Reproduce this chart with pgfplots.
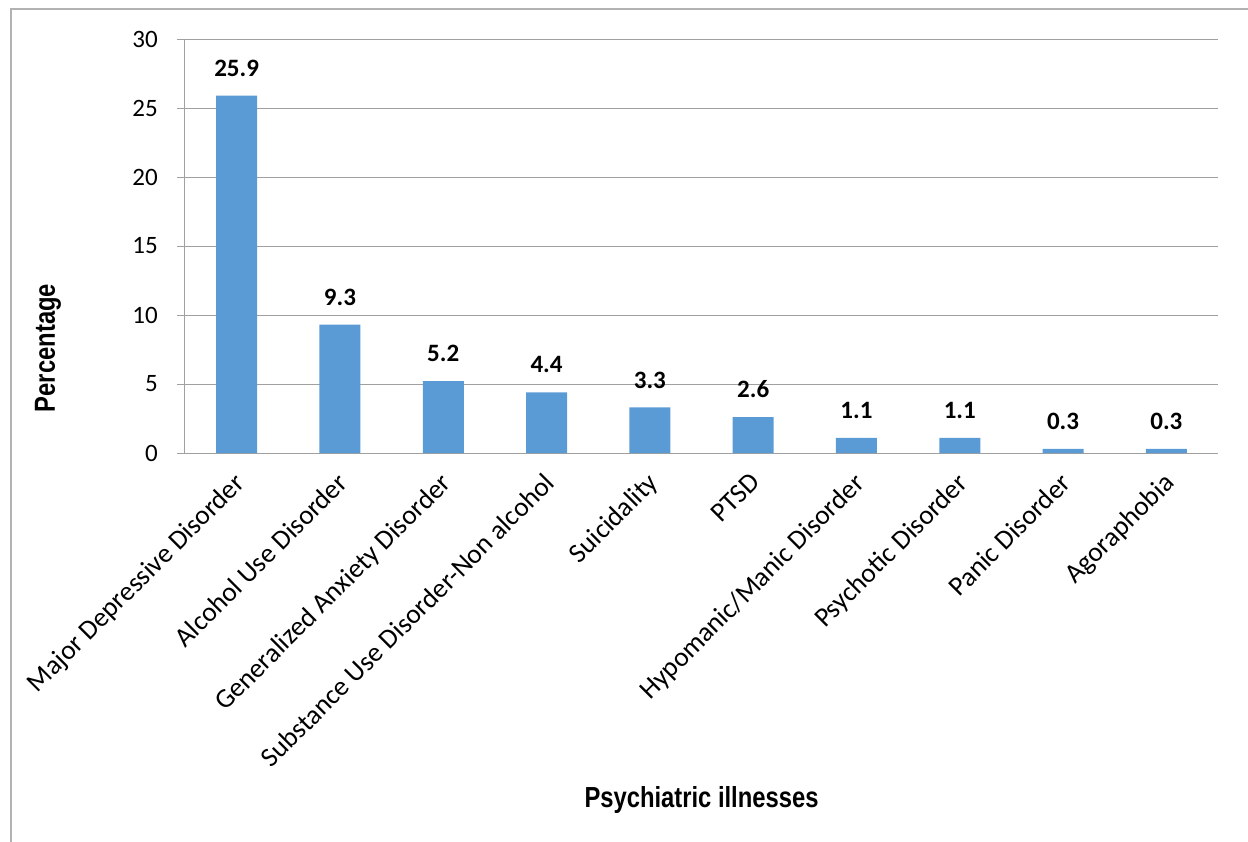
\documentclass[border=0pt]{standalone}
\usepackage{pgfplots}
\pgfplotsset{compat=1.18}
\usepackage{fontspec}
\setmainfont{Carlito}
\newfontfamily\narrowbold[FakeStretch=0.82]{Liberation Sans Bold}
\definecolor{barblue}{RGB}{91,155,213}
\definecolor{gridgray}{RGB}{160,160,160}
\definecolor{framegray}{RGB}{178,178,178}
\begin{document}
\begin{tikzpicture}[x=1pt,y=1pt]
\useasboundingbox (0,0) rectangle (1248,-842);
\draw[framegray, line width=2pt] (11,-860) -- (11,-9) -- (1270,-9);
\begin{axis}[
  at={(185pt,-453pt)}, anchor=south west,
  scale only axis, width=1033pt, height=414pt,
  ybar, bar width=41pt,
  xmin=-0.5, xmax=9.5, ymin=0, ymax=30,
  ytick={0,5,...,30},
  axis lines*=left,
  axis line style={gridgray, line width=1pt, -},
  ymajorgrids, grid style={gridgray, line width=1pt},
  tick align=outside,
  major tick length=8pt,
  tick style={gridgray, line width=1pt},
  xtick={0,...,9},
  x tick style={draw=none},
  xticklabels={Major Depressive Disorder, Alcohol Use Disorder, Generalized Anxiety Disorder, Substance Use Disorder-Non alcohol, Suicidality, PTSD, Hypomanic/Manic Disorder, Psychotic Disorder, Panic Disorder, Agoraphobia},
  extra x ticks={-0.5,0.5,...,9.5},
  extra x tick labels={},
  extra x tick style={tick style={draw=gridgray, line width=1pt}, major tick length=9pt},
  x tick label style={xshift=-4pt, yshift=-10pt, rotate=45, anchor=north east, inner sep=0pt, font=\fontsize{27.3}{30}\selectfont},
  y tick label style={font=\fontsize{25}{28}\selectfont, inner sep=0pt, xshift=-19pt},
  /pgf/number format/assume math mode=true,
  nodes near coords,
  every node near coord/.append style={font=\fontsize{25}{28}\selectfont\bfseries, inner sep=0pt, anchor=south, yshift=19pt},
  point meta=explicit symbolic,
  ylabel={\narrowbold\fontsize{29}{32}\selectfont Percentage},
  ylabel style={at={(axis description cs:-0.1326,0.2536)}, anchor=center, rotate=0},
  xlabel={\narrowbold\fontsize{29}{32}\selectfont Psychiatric illnesses},
  xlabel style={at={(axis description cs:0.5,-0.838)}, anchor=center},
]
\addplot[fill=barblue, draw=none] coordinates {
(0,25.9) [25.9]
(1,9.3) [9.3]
(2,5.2) [5.2]
(3,4.4) [4.4]
(4,3.3) [3.3]
(5,2.6) [2.6]
(6,1.1) [1.1]
(7,1.1) [1.1]
(8,0.3) [0.3]
(9,0.3) [0.3]
};
\end{axis}
\end{tikzpicture}
\end{document}
